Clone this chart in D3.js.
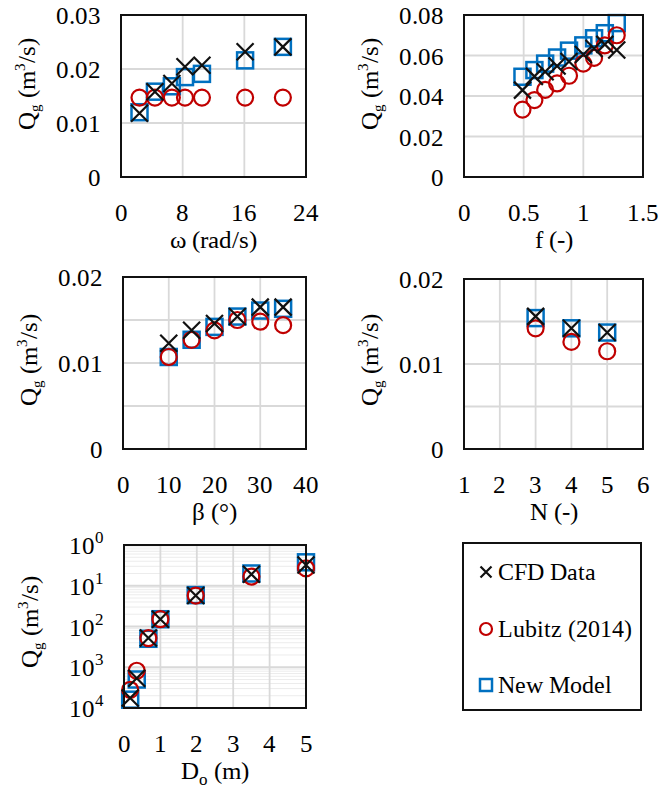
<!DOCTYPE html>
<html>
<head>
<meta charset="utf-8">
<script src="https://cdn.jsdelivr.net/npm/d3@7"></script>
<style>
  @font-face { font-family: "ChartSerif"; src: local("Liberation Serif"), local("LiberationSerif"), local("Tinos"), local("Times New Roman"); }
  body { margin: 0; }
</style>
</head>
<body>
<svg width="659" height="793"></svg>
<script>
// ---- data ----
var omega = [2.4, 4.4, 6.6, 8.3, 10.5, 16.1, 21.0];
var omegaCFD = [0.0118, 0.0158, 0.0173, 0.0204, 0.0207, 0.0232, 0.0241];
var omegaLubitz = [0.0147, 0.0147, 0.0147, 0.0147, 0.0147, 0.0147, 0.0147];
var omegaModel = [0.0120, 0.0158, 0.0168, 0.0185, 0.0191, 0.0216, 0.0241];

var fVals = [0.49, 0.59, 0.68, 0.78, 0.88, 1.0, 1.09, 1.18, 1.28];
var fCFD = [0.0429, 0.0497, 0.0520, 0.0548, 0.0570, 0.0605, 0.0635, 0.0655, 0.0627];
var fLubitz = [0.0333, 0.0380, 0.0430, 0.0462, 0.0500, 0.0560, 0.0588, 0.0650, 0.0700];
var fModel = [0.0495, 0.0528, 0.0560, 0.0590, 0.0624, 0.0650, 0.0685, 0.0710, 0.0760];

var beta = [10, 15, 20, 25, 30, 35];
var betaCFD = [0.0123, 0.0138, 0.0146, 0.0154, 0.0165, 0.0165];
var betaLubitz = [0.0107, 0.0127, 0.0138, 0.0150, 0.0148, 0.0144];
var betaModel = [0.0107, 0.0127, 0.0142, 0.0154, 0.0161, 0.0163];

var blades = [3, 4, 5];
var bladesCFD = [0.0156, 0.0142, 0.0137];
var bladesLubitz = [0.0142, 0.0126, 0.0115];
var bladesModel = [0.0154, 0.0142, 0.0137];

var dia = [0.17, 0.35, 0.67, 1.0, 1.97, 3.5, 5.0];
var diaCFD = [0.000176, 0.00054, 0.0052, 0.0151, 0.0575, 0.191, 0.324];
var diaLubitz = [0.00028, 0.00082, 0.0052, 0.0151, 0.0575, 0.168, 0.268];
var diaModel = [0.00016, 0.0005, 0.0050, 0.0151, 0.0590, 0.200, 0.376];

var seriesNames = ['CFD Data', 'Lubitz (2014)', 'New Model'];
// -----------------------------------

var svg = d3.select('svg');
var fs = 25;
var blue = '#0070c0', red = '#c00000';
var serifStack = 'ChartSerif, "Liberation Serif", Tinos, "Times New Roman", FreeSerif, serif';

function label(sel, size) {
    return sel.attr('font-size', size).style('font-family', serifStack);
}

function drawMarker(g, type, x, y, s) {
    if (type == 'square') {
        g.append('rect').attr('x', x - s).attr('y', y - s)
            .attr('width', 2 * s).attr('height', 2 * s)
            .attr('fill', 'none').attr('stroke', blue).attr('stroke-width', 2.5);
    } else if (type == 'circle') {
        g.append('circle').attr('cx', x).attr('cy', y).attr('r', s)
            .attr('fill', 'none').attr('stroke', red).attr('stroke-width', 2.2);
    } else {
        g.append('path')
            .attr('d', 'M' + (x - s) + ',' + (y - s) + 'L' + (x + s) + ',' + (y + s) +
                'M' + (x - s) + ',' + (y + s) + 'L' + (x + s) + ',' + (y - s))
            .attr('stroke', '#111').attr('stroke-width', 2.2);
    }
}

function panel(o) {
    var x = d3.scaleLinear().domain(o.xDomain).range([o.left, o.right]);
    var y = (o.log ? d3.scaleLog() : d3.scaleLinear()).domain(o.yDomain).range([o.bottom, o.top]);

    // minor gridlines for the log panel
    if (o.log) {
        var minors = [];
        for (var e = -4; e < 0; e++) {
            for (var m = 2; m < 10; m++) minors.push(m * Math.pow(10, e));
        }
        minors.forEach(function(d) {
            svg.append('line').attr('x1', o.left).attr('x2', o.right)
                .attr('y1', y(d)).attr('y2', y(d))
                .attr('stroke', '#ececec').attr('stroke-width', 1);
        });
    }
    o.xGrid.forEach(function(d) {
        svg.append('line').attr('x1', x(d)).attr('x2', x(d))
            .attr('y1', o.top).attr('y2', o.bottom)
            .attr('stroke', '#d9d9d9').attr('stroke-width', 1.8);
    });
    o.yGrid.forEach(function(d) {
        svg.append('line').attr('x1', o.left).attr('x2', o.right)
            .attr('y1', y(d)).attr('y2', y(d))
            .attr('stroke', '#d9d9d9').attr('stroke-width', 1.8);
    });

    // tick labels
    o.xTicks.forEach(function(d) {
        label(svg.append('text'), fs).attr('x', x(d)).attr('y', o.bottom + 44)
            .attr('text-anchor', 'middle').text(d);
    });
    o.yTicks.forEach(function(d) {
        var t = label(svg.append('text'), fs).attr('x', o.left - 20).attr('y', y(d) + 9)
            .attr('text-anchor', 'end');
        if (o.log) {
            t.text('10').append('tspan').attr('dy', -11).attr('font-size', 17)
                .text(Math.round(-Math.log10(d)));
        } else {
            t.text(d);
        }
    });

    // axis titles
    var xt = label(svg.append('text'), fs).attr('x', (o.left + o.right) / 2).attr('y', o.bottom + 71)
        .attr('text-anchor', 'middle');
    xt.append('tspan').text(o.xTitle[0]);
    if (o.xTitle[1]) {
        xt.append('tspan').attr('font-size', 17).attr('dy', 6).text(o.xTitle[1]);
        xt.append('tspan').attr('dy', -6).text(o.xTitle[2]);
    }
    var yt = label(svg.append('text'), fs)
        .attr('transform', 'translate(' + [o.left - 86, o.yTitleY] + ')rotate(-90)')
        .attr('text-anchor', 'middle');
    yt.append('tspan').text('Q');
    yt.append('tspan').attr('font-size', 15).attr('dy', 5).text('g');
    yt.append('tspan').attr('dy', -5).text(' (m');
    yt.append('tspan').attr('font-size', 15).attr('dy', -10).text('3');
    yt.append('tspan').attr('dy', 10).text('/s)');

    // markers
    o.xs.forEach(function(xv, i) { drawMarker(svg, 'square', x(xv), y(o.model[i]), 8); });
    o.xs.forEach(function(xv, i) { drawMarker(svg, 'circle', x(xv), y(o.lubitz[i]), 8); });
    o.xs.forEach(function(xv, i) { drawMarker(svg, 'x', x(xv), y(o.cfd[i]), 8.5); });

    // frame
    svg.append('rect').attr('x', o.left).attr('y', o.top)
        .attr('width', o.right - o.left).attr('height', o.bottom - o.top)
        .attr('fill', 'none').attr('stroke', '#111').attr('stroke-width', 2);
}

panel({
    left: 121, right: 306, top: 15, bottom: 177, yTitleY: 84,
    xDomain: [0, 24], yDomain: [0, 0.03],
    xTicks: [0, 8, 16, 24], xGrid: [8, 16], yTicks: [0, 0.01, 0.02, 0.03], yGrid: [0.01, 0.02],
    xTitle: ['\u03c9 (rad/s)'],
    xs: omega, cfd: omegaCFD, lubitz: omegaLubitz, model: omegaModel
});
panel({
    left: 464, right: 643, top: 15, bottom: 177, yTitleY: 84,
    xDomain: [0, 1.5], yDomain: [0, 0.08],
    xTicks: [0, 0.5, 1, 1.5], xGrid: [0.5, 1], yTicks: [0, 0.02, 0.04, 0.06, 0.08], yGrid: [0.02, 0.04, 0.06],
    xTitle: ['f (-)'],
    xs: fVals, cfd: fCFD, lubitz: fLubitz, model: fModel
});
panel({
    left: 123, right: 306, top: 277, bottom: 449, yTitleY: 360,
    xDomain: [0, 40], yDomain: [0, 0.02],
    xTicks: [0, 10, 20, 30, 40], xGrid: [10, 20, 30], yTicks: [0, 0.01, 0.02], yGrid: [0.005, 0.01, 0.015],
    xTitle: ['\u03b2 (\u00b0)'],
    xs: beta, cfd: betaCFD, lubitz: betaLubitz, model: betaModel
});
panel({
    left: 464, right: 643, top: 279, bottom: 449, yTitleY: 360,
    xDomain: [1, 6], yDomain: [0, 0.02],
    xTicks: [1, 2, 3, 4, 5, 6], xGrid: [2, 3, 4, 5], yTicks: [0, 0.01, 0.02], yGrid: [0.005, 0.01, 0.015],
    xTitle: ['N (-)'],
    xs: blades, cfd: bladesCFD, lubitz: bladesLubitz, model: bladesModel
});
panel({
    left: 124, right: 306, top: 545, bottom: 708, yTitleY: 622, log: true,
    xDomain: [0, 5], yDomain: [1e-4, 1],
    xTicks: [0, 1, 2, 3, 4, 5], xGrid: [1, 2, 3, 4], yTicks: [1e-4, 1e-3, 1e-2, 1e-1, 1], yGrid: [1e-3, 1e-2, 1e-1],
    xTitle: ['D', 'o', ' (m)'],
    xs: dia, cfd: diaCFD, lubitz: diaLubitz, model: diaModel
});

// legend
svg.append('rect').attr('x', 463).attr('y', 543).attr('width', 178).attr('height', 167)
    .attr('fill', '#fff').attr('stroke', '#111').attr('stroke-width', 2);
var legTypes = ['x', 'circle', 'square'];
var legY = [572, 629, 685];
seriesNames.forEach(function(name, i) {
    drawMarker(svg, legTypes[i], 486, legY[i], legTypes[i] == 'x' ? 5.5 : 6);
    label(svg.append('text'), 24).attr('x', 498).attr('y', legY[i] + 8).text(name);
});
</script>
</body>
</html>
